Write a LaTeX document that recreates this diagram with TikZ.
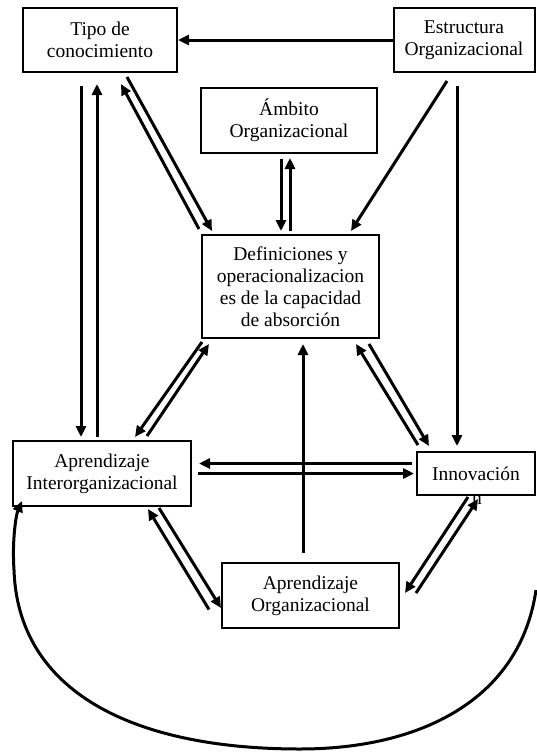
\documentclass[tikz,border=0pt]{standalone}
\usepackage{fontspec}
\setmainfont{Liberation Serif}
\usetikzlibrary{arrows.meta,calc}

\begin{document}
\begin{tikzpicture}[x=1pt,y=-1pt,
  box/.style={draw,line width=2pt,align=center,inner sep=0pt,
    font=\fontsize{19.5}{22}\selectfont},
  link/.style={line width=3pt},
  arr/.style={link,-{Triangle[length=11pt,width=10pt]}}]
\useasboundingbox (0,0) rectangle (536,753);

% stray second line of the "Innovacion" label, partly under the frame
\node[font=\fontsize{19.5}{22}\selectfont,inner sep=0pt] (innovn) at (477,500) {n};

% boxes
\node[box,minimum width=154pt,minimum height=64pt] (tipo) at (100,40) {Tipo de\\conocimiento};
\node[box,minimum width=141pt,minimum height=64pt] (estr) at (464,40) {Estructura\\Organizacional};
\node[box,minimum width=176pt,minimum height=65pt] (ambito) at (289,120.5) {Ámbito\\Organizacional};
\node[box,minimum width=177pt,minimum height=103pt] (defin) at (290.5,286.5)
  {Definiciones y\\operacionalizacion\\es de la capacidad\\de absorción};
\node[box,minimum width=178pt,minimum height=65pt] (inter) at (102,473.5) {Aprendizaje\\Interorganizacional};
\node[box,minimum width=118pt,minimum height=43pt] (innov) at (476,473.5) {Innovación};
\node[box,minimum width=177pt,minimum height=65pt] (aorg) at (310.5,595.5) {Aprendizaje\\Organizacional};

% Estructura -> Tipo
\draw[arr] (estr.west) -- (tipo.east);

% Tipo <-> Aprendizaje Interorganizacional
\draw[arr] ($(tipo.south)+(-19,13)$) -- ($(inter.north)+(-21,-3)$);
\draw[arr] ($(inter.north)+(-5,-3)$) -- ($(tipo.south)+(-3,11)$);

% Tipo <-> Definiciones
\draw[arr] ($(tipo.south)+(27,4)$) -- ($(defin.north west)+(11,-3)$);
\draw[arr] ($(defin.north west)+(-2,-5)$) -- ($(tipo.south)+(21,11)$);

% Ambito <-> Definiciones
\draw[arr] ($(ambito.south)+(-8,5)$) -- ($(defin.north)+(-9.5,-3)$);
\draw[arr] ($(defin.north)+(-0.5,-3)$) -- ($(ambito.south)+(1,4)$);

% Estructura -> Definiciones, Estructura -> Innovacion
\draw[arr] ($(estr.south)+(-17,8)$) -- ($(defin.north east)+(-29,-3)$);
\draw[arr] ($(estr.south)+(-7,13)$) -- ($(innov.north)+(-19,-5)$);

% Definiciones <-> Innovacion
\draw[arr] ($(innov.north west)+(2,-6)$) -- ($(defin.south east)+(-24,5)$);
\draw[arr] ($(defin.south east)+(-11,5)$) -- ($(innov.north west)+(13,-5)$);

% Definiciones <-> Aprendizaje Interorganizacional
\draw[arr] ($(defin.south west)+(1,3)$) -- ($(inter.north)+(33,-3)$);
\draw[arr] ($(inter.north)+(45,-4)$) -- ($(defin.south west)+(8,5)$);

% Aprendizaje Interorganizacional <-> Innovacion
\draw[arr] ($(innov.west)+(-4,-10)$) -- ($(inter.east)+(7,-10)$);
\draw[arr] ($(inter.east)+(6,0)$) -- ($(innov.west)+(-2,0)$);

% Aprendizaje Organizacional -> Definiciones
\draw[arr] ($(aorg.north)+(-7.5,-9)$) -- ($(defin.south)+(12.5,5)$);

% Aprendizaje Interorganizacional <-> Aprendizaje Organizacional
\draw[arr] ($(aorg.west)+(-12,14)$) -- ($(inter.south)+(46,2)$);
\draw[arr] ($(inter.south)+(57,1)$) -- ($(aorg.west)+(0,12.5)$);

% Innovacion <-> Aprendizaje Organizacional
\draw[arr] ($(innov.south)+(-8,1)$) -- ($(aorg.east)+(5,-2.5)$);
\draw[arr] ($(aorg.east)+(16,-2.5)$) -- ($(innov.south)+(2,3)$);

% feedback loop round the bottom
\coordinate (loopstart) at (536,590);
\coordinate (loopbottom) at (300,749);
\draw[arr] (loopstart) .. controls (520,700) and (420,749) .. (loopbottom)
  .. controls (130,749) and (18,690) .. (14,570)
  .. controls (12,540) and (16,515) .. ($(inter.south west)+(10,-6)$);
\end{tikzpicture}
\end{document}
